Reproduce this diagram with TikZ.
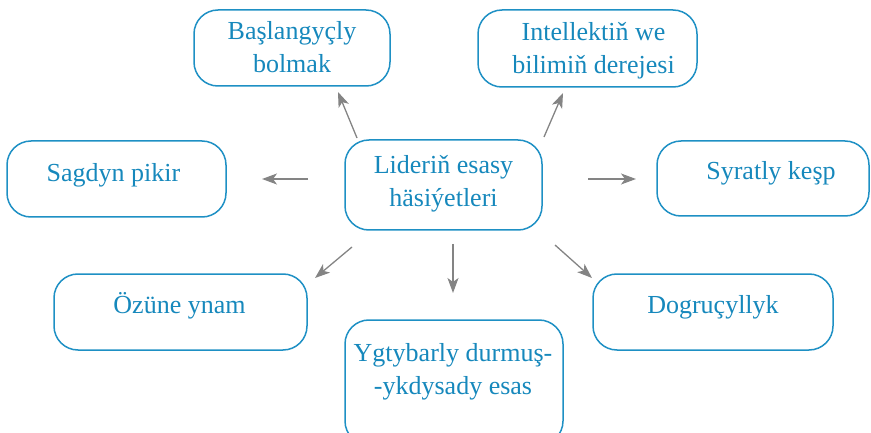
\documentclass[tikz,border=0pt]{standalone}
\usepackage{fontspec}
\setmainfont{Liberation Serif}
\usetikzlibrary{arrows.meta}
\definecolor{txtblue}{RGB}{22,136,188}
\definecolor{boxblue}{RGB}{30,144,196}
\definecolor{arrgray}{RGB}{132,132,132}
\begin{document}
\begin{tikzpicture}[x=1pt,y=-1pt,
  box/.style={draw=boxblue,line width=1.5pt,rounded corners=24pt,inner sep=0pt,rectangle},
  lbl/.style={text=txtblue,font=\rmfamily\fontsize{26}{33}\selectfont,align=center,inner sep=0pt},
  arr/.style={draw=arrgray,line width=1.3pt,-{Stealth[length=15pt,width=11pt,inset=4pt]}}]
\clip (0,0) rectangle (871,433);
% boxes
\node[box,minimum width=196pt,minimum height=76pt] (b1) at (292,48) {};
\node[box,minimum width=219pt,minimum height=77pt] (b2) at (587.5,48.5) {};
\node[box,minimum width=197pt,minimum height=90pt] (bc) at (443.5,185) {};
\node[box,minimum width=219pt,minimum height=76pt] (b3) at (116.5,179) {};
\node[box,minimum width=212pt,minimum height=75pt] (b4) at (763,178.5) {};
\node[box,minimum width=253pt,minimum height=76pt] (b5) at (180.5,312) {};
\node[box,minimum width=240pt,minimum height=76pt] (b6) at (713,312) {};
\node[box,minimum width=218pt,minimum height=125pt] (b7) at (454,382.5) {};
% labels
\node[lbl] (t1) at (292,47) {Başlangyçly\\bolmak};
\node[lbl] (t2) at (593.5,50.5) {Intellektiň we\\bilimiň derejesi};
\node[lbl] (tc) at (443.5,183.7) {Lideriň esasy\\häsiýetleri};
\node[lbl,anchor=base] (t3) at (113.5,182) {Sagdyn pikir};
\node[lbl,anchor=base] (t4) at (771,180) {Syratly keşp};
\node[lbl,anchor=base] (t5) at (179.5,313) {Özüne ynam};
\node[lbl,anchor=base] (t6) at (713,313) {Dogruçyllyk};
\node[lbl] (t7) at (453,372) {Ygtybarly durmuş-\\-ykdysady esas};
% arrow end points
\coordinate (s1) at (357,138); \coordinate (e1) at (338,92);
\coordinate (s2) at (544,137); \coordinate (e2) at (563,93);
\coordinate (s3) at (308,179); \coordinate (e3) at (262,179);
\coordinate (s4) at (588,179); \coordinate (e4) at (636,179);
\coordinate (s5) at (352,247); \coordinate (e5) at (315,278);
\coordinate (s6) at (555,245); \coordinate (e6) at (592,278);
\coordinate (s7) at (453,244); \coordinate (e7) at (453,293);
\foreach \i in {1,...,7} {\draw[arr] (s\i) -- (e\i);}
\end{tikzpicture}
\end{document}
